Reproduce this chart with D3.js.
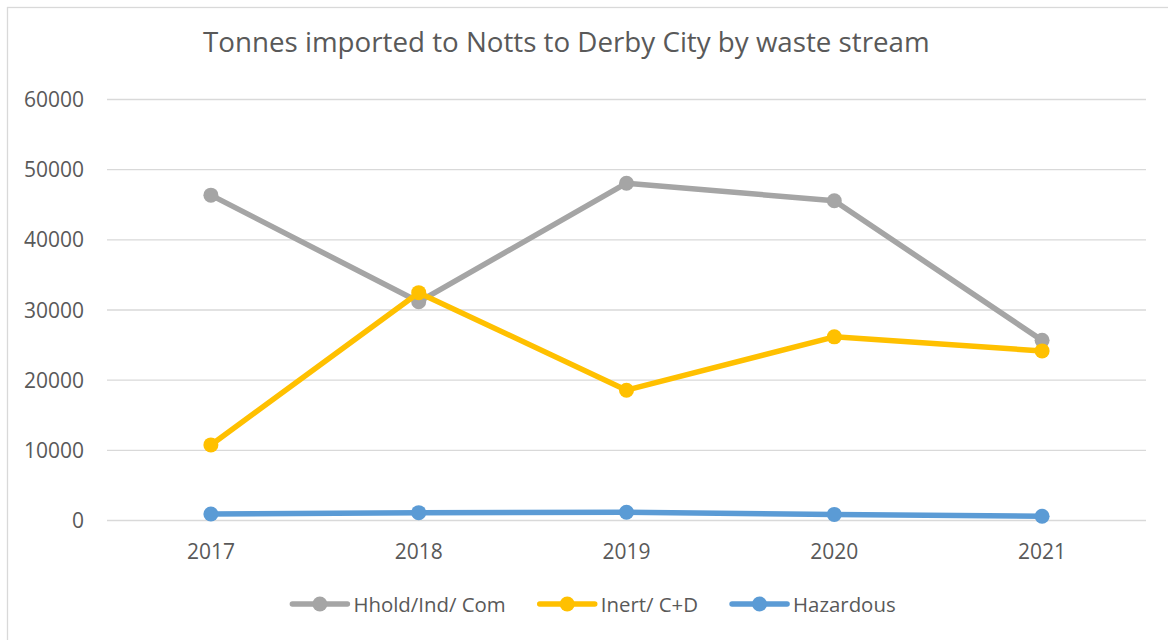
<!DOCTYPE html>
<html>
<head>
<meta charset="utf-8">
<script src="https://cdn.jsdelivr.net/npm/d3@7"></script>
<style>
  html, body { margin: 0; padding: 0; background: #fff; }
  svg { display: block; }
  text { font-family: "Open Sans", "Noto Sans", sans-serif; fill: #595959; }
</style>
</head>
<body>
<svg id="chart" width="1168" height="640"></svg>
<script>
const titleText = "Tonnes imported to Notts to Derby City by waste stream";
const years = ["2017", "2018", "2019", "2020", "2021"];
const hholdValues = [46300, 31100, 48000, 45500, 25600];
const inertValues = [10700, 32400, 18500, 26100, 24100];
const hazardousValues = [850, 1050, 1100, 800, 530];
const yTickValues = [0, 10000, 20000, 30000, 40000, 50000, 60000];
const seriesNames = ["Hhold/Ind/ Com", "Inert/ C+D", "Hazardous"];
const seriesColors = ["#A5A5A5", "#FFC000", "#5B9BD5"];

const series = [
  { name: seriesNames[0], color: seriesColors[0], values: hholdValues },
  { name: seriesNames[1], color: seriesColors[1], values: inertValues },
  { name: seriesNames[2], color: seriesColors[2], values: hazardousValues }
];

const svg = d3.select("#chart");

// chart border (only left/top visible in frame)
svg.append("rect")
  .attr("x", 7.5).attr("y", 7.5)
  .attr("width", 1200).attr("height", 700)
  .attr("fill", "none").attr("stroke", "#d9d9d9").attr("stroke-width", 1.3);

const plot = { left: 107, right: 1146, top: 99, bottom: 520 };

const x = d3.scaleBand().domain(years).range([plot.left, plot.right]).padding(0);
const y = d3.scaleLinear().domain([0, 60000]).range([plot.bottom, plot.top]);
const cx = d => x(d) + x.bandwidth() / 2;

// title
const title = svg.append("text")
  .attr("x", 203).attr("y", 52)
  .attr("font-size", 24)
  .text(titleText);
{
  const w = title.node().getComputedTextLength();
  title.attr("font-size", 24 * 727 / w);
}

// y axis with gridlines
const yAxis = svg.append("g")
  .attr("transform", `translate(${plot.left},0)`)
  .call(d3.axisLeft(y).tickValues(yTickValues).tickFormat(d3.format("d"))
    .tickSize(-(plot.right - plot.left)).tickPadding(23));
yAxis.select(".domain").remove();
yAxis.selectAll(".tick line").attr("stroke", "#d9d9d9").attr("stroke-width", 1.3);
yAxis.selectAll(".tick text")
  .attr("font-size", 21).attr("dy", "0.36em")
  .style("font-family", "'Open Sans', sans-serif").attr("fill", "#595959");

// x axis labels
const xAxis = svg.append("g")
  .attr("transform", `translate(0,${plot.bottom})`)
  .call(d3.axisBottom(x).tickSize(0));
xAxis.select(".domain").remove();
xAxis.selectAll(".tick text")
  .attr("font-size", 21).attr("y", 39).attr("dy", 0)
  .style("font-family", "'Open Sans', sans-serif").attr("fill", "#595959");

// lines and markers
const line = d3.line().x((d, i) => cx(years[i])).y(d => y(d));
series.forEach(s => {
  const g = svg.append("g");
  g.append("path")
    .attr("d", line(s.values))
    .attr("fill", "none")
    .attr("stroke", s.color)
    .attr("stroke-width", 5.5)
    .attr("stroke-linejoin", "round")
    .attr("stroke-linecap", "round");
  g.selectAll("circle").data(s.values).join("circle")
    .attr("cx", (d, i) => cx(years[i]))
    .attr("cy", d => y(d))
    .attr("r", 7.5)
    .attr("fill", s.color);
});

// legend
const legend = svg.append("g");
const legendY = 604;
const items = [];
series.forEach(s => {
  const g = legend.append("g");
  g.append("line").attr("x1", 0).attr("x2", 55).attr("y1", legendY).attr("y2", legendY)
    .attr("stroke", s.color).attr("stroke-width", 5.5).attr("stroke-linecap", "round");
  g.append("circle").attr("cx", 27.5).attr("cy", legendY).attr("r", 7.5).attr("fill", s.color);
  const t = g.append("text").attr("x", 61).attr("y", legendY + 8).attr("font-size", 20.4).text(s.name);
  items.push({ g, w: 61 + t.node().getComputedTextLength() });
});
const gap = 34;
const total = d3.sum(items, d => d.w) + gap * (items.length - 1);
let pos = 594 - total / 2;
items.forEach(it => {
  it.g.attr("transform", `translate(${pos},0)`);
  pos += it.w + gap;
});
</script>
</body>
</html>
